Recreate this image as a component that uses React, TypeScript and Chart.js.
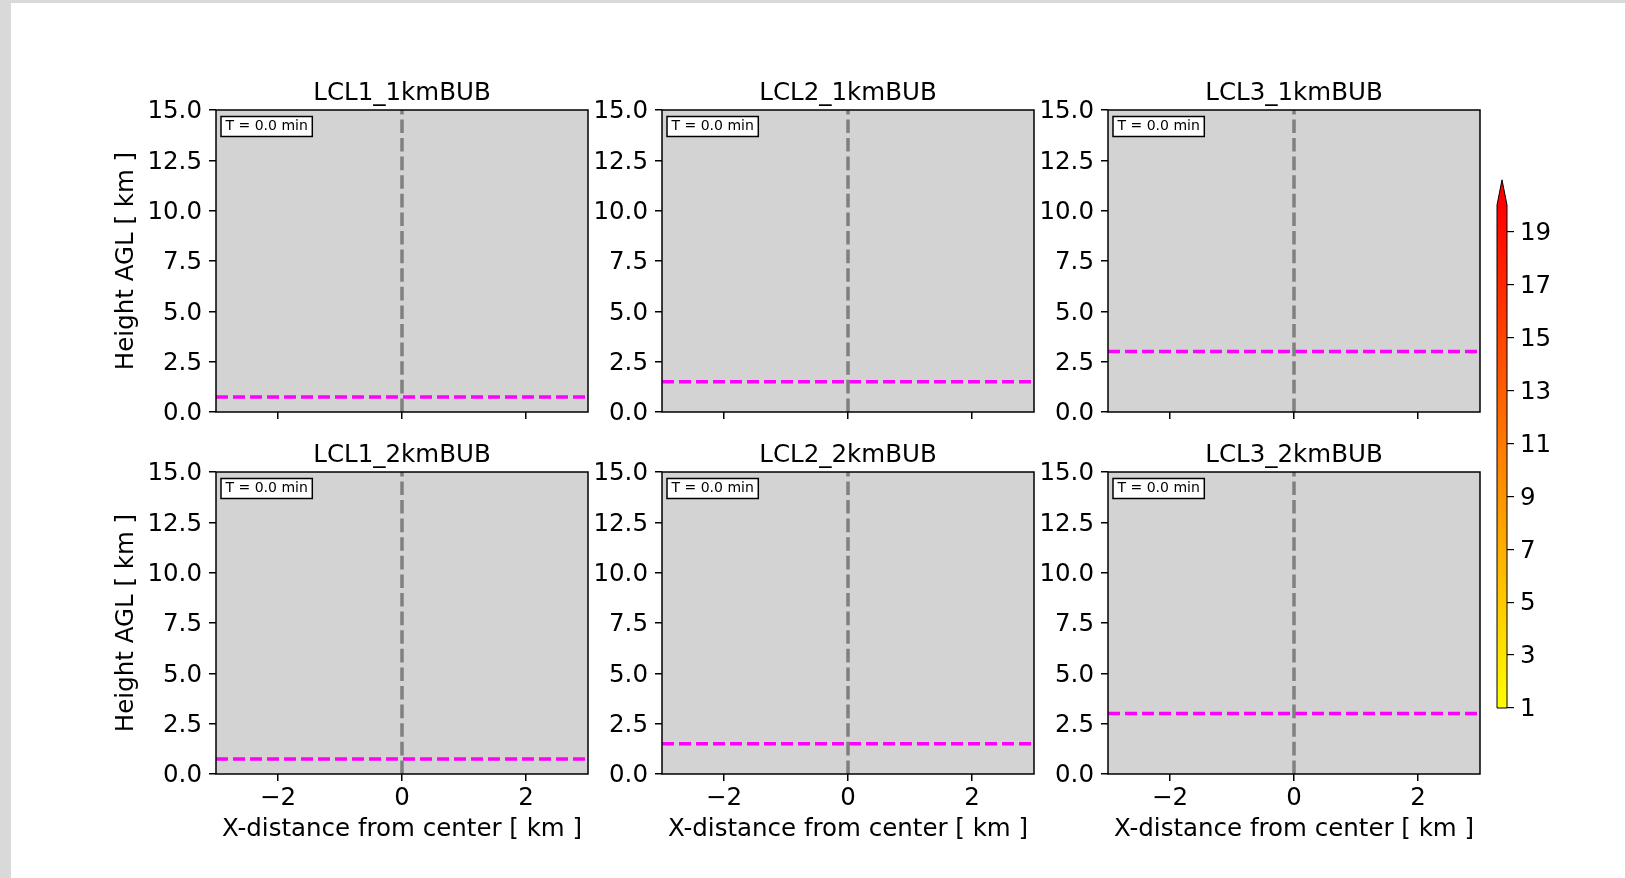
import React, { useEffect, useRef } from 'react';
import { Chart, registerables } from 'chart.js';

Chart.register(...registerables);

// Panel titles are built as `${lcl}_${bubble}`: one column per LCL case, one row per bubble size
const lclNames = ['LCL1', 'LCL2', 'LCL3'];
const bubbleNames = ['1kmBUB', '2kmBUB'];
// Lifting condensation level height of each LCL case [km]
const lclHeightsKm = [0.75, 1.5, 3.0];
// Bubble centre line [km]
const bubbleCenterKm = [0];
const xRangeKm = [-3, 3];
const yRangeKm = [0, 15];
const xTickValues = [-2, 0, 2];
const yTickValues = [0, 2.5, 5, 7.5, 10, 12.5, 15];
const timeLabel = 'T = 0.0 min';
// Colour scale (autumn_r: yellow at the low end, red at the high end)
const colorbarRange = [1, 20];
const colorbarTicks = [1, 3, 5, 7, 9, 11, 13, 15, 17, 19];
const colorbarColors = ['#ffff00', '#ff0000'];

const X_LABEL = 'X-distance from center [ km ]';
const Y_LABEL = 'Height AGL [ km ]';

const FONT = "'DejaVu Sans', sans-serif";
const TEXT_SIZE = 24.5;
const NOTE_SIZE = 14;
const PANEL_LEFT = [216, 662, 1108];
const PANEL_TOP = [110, 472];
const PANEL_W = 372;
const PANEL_H = 302;
const Y_AXIS_W = 110;
const PAD_TOP = 40;
const PAD_RIGHT = 10;

Chart.defaults.font.family = FONT;
Chart.defaults.color = '#000';

const fmtX = (v: number) => (v < 0 ? '\u2212' + Math.abs(v) : String(v));

const panelPlugin = {
  id: 'panelDecor',
  beforeDraw(chart: any) {
    const { ctx, chartArea: a } = chart;
    ctx.save();
    ctx.fillStyle = '#d3d3d3';
    ctx.fillRect(a.left, a.top, a.right - a.left, a.bottom - a.top);
    ctx.restore();
  },
  afterDatasetsDraw(chart: any, _args: any, opts: any) {
    const { ctx, chartArea: a } = chart;
    ctx.save();
    // axes frame
    ctx.strokeStyle = '#000';
    ctx.lineWidth = 1.5;
    ctx.strokeRect(a.left, a.top, a.right - a.left, a.bottom - a.top);
    // time stamp box in the upper-left corner
    ctx.font = `${NOTE_SIZE}px ${FONT}`;
    const tw = ctx.measureText(opts.note).width;
    const bx = a.left + 5;
    const by = a.top + 6.5;
    const bw = tw + 9;
    const bh = 20;
    ctx.fillStyle = '#fff';
    ctx.fillRect(bx, by, bw, bh);
    ctx.lineWidth = 1.5;
    ctx.strokeRect(bx, by, bw, bh);
    ctx.fillStyle = '#000';
    ctx.textAlign = 'left';
    ctx.textBaseline = 'alphabetic';
    ctx.fillText(opts.note, bx + 4.5, by + 13.5);
    // panel title
    ctx.font = `${TEXT_SIZE}px ${FONT}`;
    ctx.textAlign = 'center';
    ctx.fillText(opts.title, (a.left + a.right) / 2, a.top - 10);
    ctx.restore();
  },
};

const colorbarPlugin = {
  id: 'colorbarExtend',
  afterDatasetsDraw(chart: any) {
    const { ctx, chartArea: a } = chart;
    const y = chart.scales.y;
    const top = y.getPixelForValue(colorbarRange[1]);
    const bottom = y.getPixelForValue(colorbarRange[0]);
    const tip = top - 0.05 * (bottom - top);
    const mid = (a.left + a.right) / 2;
    ctx.save();
    ctx.beginPath();
    ctx.moveTo(a.left, top);
    ctx.lineTo(mid, tip);
    ctx.lineTo(a.right, top);
    ctx.closePath();
    ctx.fillStyle = colorbarColors[1];
    ctx.fill();
    ctx.beginPath();
    ctx.moveTo(a.left, bottom);
    ctx.lineTo(a.left, top);
    ctx.lineTo(mid, tip);
    ctx.lineTo(a.right, top);
    ctx.lineTo(a.right, bottom);
    ctx.closePath();
    ctx.strokeStyle = '#000';
    ctx.lineWidth = 1;
    ctx.stroke();
    ctx.restore();
  },
};

function Panel({ row, col }: { row: number; col: number }) {
  const ref = useRef<HTMLCanvasElement>(null);
  const bottomRow = row === bubbleNames.length - 1;
  const xAxisH = bottomRow ? 74 : 20;
  const w = Y_AXIS_W + PANEL_W + PAD_RIGHT;
  const h = PAD_TOP + PANEL_H + xAxisH;

  useEffect(() => {
    const lcl = lclHeightsKm[col];
    const chart = new Chart(ref.current as HTMLCanvasElement, {
      type: 'line',
      data: {
        datasets: [
          {
            data: [
              { x: bubbleCenterKm[0], y: yRangeKm[0] },
              { x: bubbleCenterKm[0], y: yRangeKm[1] },
            ],
            borderColor: '#808080',
            borderWidth: 3.5,
            borderDash: [13.6, 5],
            pointRadius: 0,
          },
          {
            data: [
              { x: xRangeKm[0], y: lcl },
              { x: xRangeKm[1], y: lcl },
            ],
            borderColor: '#ff00ff',
            borderWidth: 3.5,
            borderDash: [12, 5],
            pointRadius: 0,
          },
        ],
      },
      options: {
        responsive: false,
        animation: false,
        devicePixelRatio: 1,
        layout: { padding: { top: PAD_TOP, right: PAD_RIGHT, left: 0, bottom: 0 } },
        plugins: {
          legend: { display: false },
          tooltip: { enabled: false },
          panelDecor: { title: `${lclNames[col]}_${bubbleNames[row]}`, note: timeLabel },
        } as any,
        scales: {
          x: {
            type: 'linear',
            min: xRangeKm[0],
            max: xRangeKm[1],
            afterBuildTicks: (s: any) => {
              s.ticks = xTickValues.map((v) => ({ value: v }));
            },
            afterFit: (s: any) => {
              s.height = xAxisH;
              s.paddingLeft = 0;
              s.paddingRight = 0;
            },
            ticks: {
              display: bottomRow,
              autoSkip: false,
              maxRotation: 0,
              padding: 3,
              color: '#000',
              font: { size: TEXT_SIZE, family: FONT },
              callback: (v: any) => fmtX(Number(v)),
            },
            grid: {
              display: true,
              drawOnChartArea: false,
              drawTicks: true,
              tickLength: 7,
              color: '#000',
              lineWidth: 1.5,
            },
            border: { display: false },
            title: {
              display: bottomRow,
              text: X_LABEL,
              color: '#000',
              font: { size: TEXT_SIZE, family: FONT },
              padding: { top: 0, bottom: 3.3 },
            },
          },
          y: {
            type: 'linear',
            min: yRangeKm[0],
            max: yRangeKm[1],
            afterBuildTicks: (s: any) => {
              s.ticks = yTickValues.map((v) => ({ value: v }));
            },
            afterFit: (s: any) => {
              s.width = Y_AXIS_W;
              s.paddingTop = 0;
              s.paddingBottom = 0;
            },
            ticks: {
              autoSkip: false,
              padding: 7,
              labelOffset: 2,
              color: '#000',
              font: { size: TEXT_SIZE, family: FONT },
              callback: (v: any) => Number(v).toFixed(1),
            },
            grid: {
              display: true,
              drawOnChartArea: false,
              drawTicks: true,
              tickLength: 7,
              color: '#000',
              lineWidth: 1.5,
            },
            border: { display: false },
            title: {
              display: col === 0,
              text: Y_LABEL,
              color: '#000',
              font: { size: TEXT_SIZE, family: FONT },
              padding: { top: 6, bottom: 0 },
            },
          },
        },
      } as any,
      plugins: [panelPlugin],
    });
    return () => chart.destroy();
  }, [row, col]);

  return (
    <canvas
      ref={ref}
      width={w}
      height={h}
      style={{
        position: 'absolute',
        left: PANEL_LEFT[col] - Y_AXIS_W,
        top: PANEL_TOP[row] - PAD_TOP,
        width: w,
        height: h,
        display: 'block',
      }}
    />
  );
}

function Colorbar() {
  const ref = useRef<HTMLCanvasElement>(null);
  const CB_LEFT = 1497;
  const CB_TOP = 205;
  const CB_W = 10;
  const CB_H = 503;
  const padLeft = 10;
  const padTop = 40;
  const padBottom = 22;
  const axisW = 70;
  const w = padLeft + CB_W + axisW;
  const h = padTop + CB_H + padBottom;

  useEffect(() => {
    const chart = new Chart(ref.current as HTMLCanvasElement, {
      type: 'bar',
      data: {
        labels: [''],
        datasets: [
          {
            data: [colorbarRange as any],
            backgroundColor: (c: any) => {
              const ch = c.chart;
              if (!ch.chartArea) return colorbarColors[0];
              const y = ch.scales.y;
              const g = ch.ctx.createLinearGradient(
                0,
                y.getPixelForValue(colorbarRange[0]),
                0,
                y.getPixelForValue(colorbarRange[1])
              );
              g.addColorStop(0, colorbarColors[0]);
              g.addColorStop(1, colorbarColors[1]);
              return g;
            },
            borderWidth: 0,
            barPercentage: 1,
            categoryPercentage: 1,
          },
        ],
      },
      options: {
        responsive: false,
        animation: false,
        devicePixelRatio: 1,
        layout: { padding: { top: padTop, left: padLeft, right: 0, bottom: padBottom } },
        plugins: { legend: { display: false }, tooltip: { enabled: false } },
        scales: {
          x: { display: false },
          y: {
            position: 'right',
            min: colorbarRange[0],
            max: colorbarRange[1],
            afterBuildTicks: (s: any) => {
              s.ticks = colorbarTicks.map((v) => ({ value: v }));
            },
            afterFit: (s: any) => {
              s.width = axisW;
              s.paddingTop = 0;
              s.paddingBottom = 0;
            },
            ticks: {
              autoSkip: false,
              padding: 6,
              labelOffset: 2,
              color: '#000',
              font: { size: TEXT_SIZE, family: FONT },
              callback: (v: any) => String(v),
            },
            grid: {
              display: true,
              drawOnChartArea: false,
              drawTicks: true,
              tickLength: 7,
              color: '#000',
              lineWidth: 1.2,
            },
            border: { display: false },
          },
        },
      } as any,
      plugins: [colorbarPlugin],
    });
    return () => chart.destroy();
  }, []);

  return (
    <canvas
      ref={ref}
      width={w}
      height={h}
      style={{
        position: 'absolute',
        left: CB_LEFT - padLeft,
        top: CB_TOP - padTop,
        width: w,
        height: h,
        display: 'block',
      }}
    />
  );
}

export default function App() {
  return (
    <div
      style={{
        position: 'fixed',
        left: 0,
        top: 0,
        width: 1625,
        height: 878,
        background: '#d9d9d9',
        overflow: 'hidden',
      }}
    >
      <div style={{ position: 'absolute', left: 11, top: 3, right: 0, bottom: 0, background: '#fff' }} />
      {bubbleNames.map((_, r) =>
        lclNames.map((__, c) => <Panel key={`${r}-${c}`} row={r} col={c} />)
      )}
      <Colorbar />
    </div>
  );
}
